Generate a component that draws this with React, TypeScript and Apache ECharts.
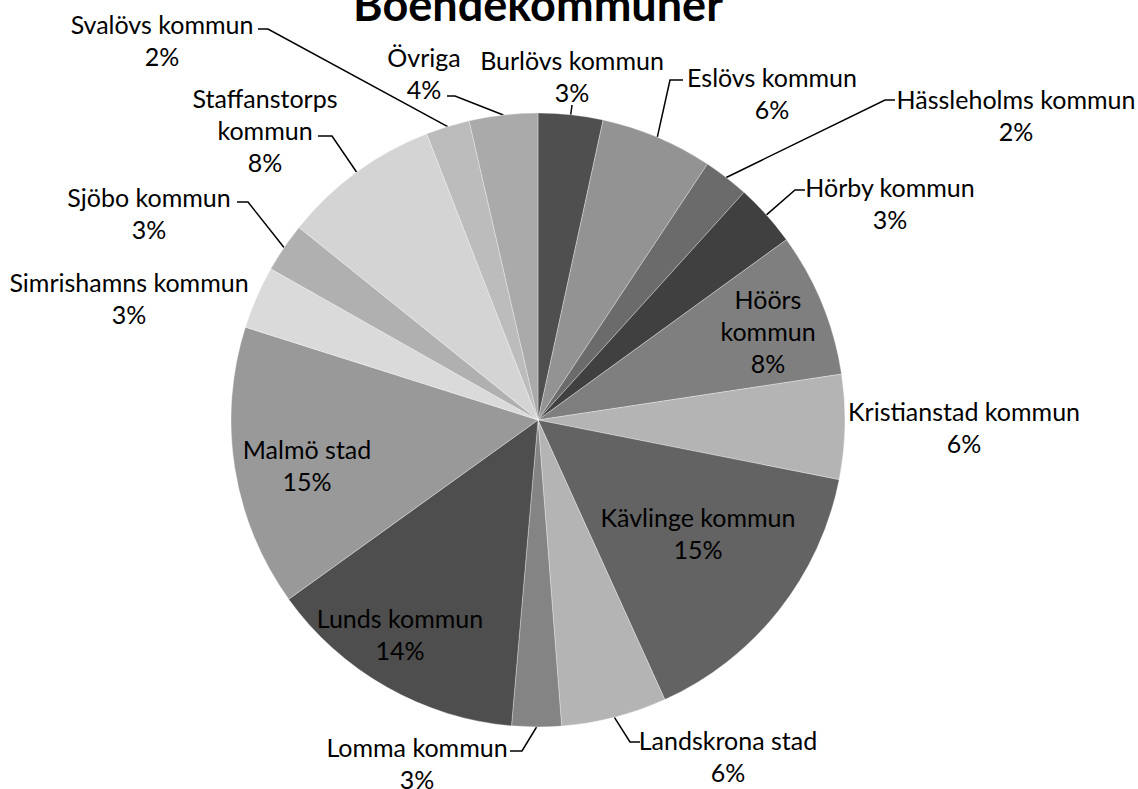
import React, { useEffect, useRef } from "react";
import * as echarts from "echarts";

const TITLE = "Boendekommuner";

const categories = [
  "Burlövs kommun",
  "Eslövs kommun",
  "Hässleholms kommun",
  "Hörby kommun",
  "Höörs kommun",
  "Kristianstad kommun",
  "Kävlinge kommun",
  "Landskrona stad",
  "Lomma kommun",
  "Lunds kommun",
  "Malmö stad",
  "Simrishamns kommun",
  "Sjöbo kommun",
  "Staffanstorps kommun",
  "Svalövs kommun",
  "Övriga",
];

const values = [3.4, 5.9, 2.4, 3.3, 7.6, 5.5, 15.1, 5.55, 2.6, 13.7, 14.8, 3.3, 2.6, 8.3, 2.3, 3.6];

const colors = [
  "#4f4f4f", "#939393", "#6b6b6b", "#404040", "#7f7f7f", "#b4b4b4",
  "#636363", "#b4b4b4", "#848484", "#4e4e4e", "#999999", "#dadada",
  "#b0b0b0", "#d4d4d4", "#bcbcbc", "#aaaaaa",
];

const wrapped = ["Höörs kommun", "Staffanstorps kommun"];

// label placement (text block centre) and leader-line label-side point + bend x
const labelLayoutCfg: { x: number; y: number; line?: number[] }[] = [
  { x: 572, y: 76, line: [572, 105, 572] },
  { x: 772, y: 93, line: [683, 80, 670] },
  { x: 1016, y: 115, line: [895, 100, 885] },
  { x: 890, y: 203, line: [805, 190, 795] },
  { x: 768, y: 331 },
  { x: 964, y: 427 },
  { x: 698, y: 533 },
  { x: 728, y: 756, line: [640, 742, 630] },
  { x: 417, y: 763, line: [510, 751, 522] },
  { x: 400, y: 634 },
  { x: 307, y: 465 },
  { x: 129, y: 298 },
  { x: 149, y: 213, line: [237, 202, 248] },
  { x: 265, y: 130, line: [318, 136, 332] },
  { x: 162, y: 40, line: [258, 29, 268] },
  { x: 424, y: 73, line: [447, 96, 455] },
];

const FONT = "Lato";

export default function App() {
  const ref = useRef<HTMLDivElement>(null);
  useEffect(() => {
    if (!ref.current) return;
    const chart = echarts.init(ref.current, null, { renderer: "svg" });
    const data = categories.map((name, i) => ({
      name,
      value: values[i],
      itemStyle: { color: colors[i] },
      labelLine: { show: !!labelLayoutCfg[i].line },
    }));
    chart.setOption({
      animation: false,
      backgroundColor: "#ffffff",
      graphic: [
        {
          type: "text",
          x: 538,
          y: 4,
          style: {
            text: TITLE,
            fontFamily: FONT,
            fontSize: 45,
            fontWeight: "bold",
            fill: "#000000",
            align: "center",
            verticalAlign: "middle",
          },
        },
      ],
      series: [
        {
          type: "pie",
          center: [538, 420],
          radius: 307,
          startAngle: 90,
          clockwise: true,
          avoidLabelOverlap: false,
          data,
          itemStyle: { borderColor: "rgba(255,255,255,0.45)", borderWidth: 0.7 },
          label: {
            show: true,
            position: "outside",
            fontFamily: FONT,
            fontSize: 25,
            lineHeight: 32,
            color: "#000000",
            align: "center",
            formatter: (p: any) => {
              const nm = wrapped.includes(p.name) ? p.name.replace(" ", "\n") : p.name;
              return `${nm}\n${Math.round(p.percent)}%`;
            },
          },
          labelLine: {
            show: true,
            lineStyle: { color: "#000000", width: 1.5 },
          },
          labelLayout: (params: any) => {
            const cfg = labelLayoutCfg[params.dataIndex];
            const out: any = {
              x: cfg.x,
              y: cfg.y,
              align: "center",
              verticalAlign: "middle",
            };
            if (cfg.line && params.labelLinePoints && params.labelLinePoints[0]) {
              const edge = params.labelLinePoints[0];
              out.labelLinePoints = [
                [edge[0], edge[1]],
                [cfg.line[2], cfg.line[1]],
                [cfg.line[0], cfg.line[1]],
              ];
            }
            return out;
          },
        },
      ],
    });
    return () => chart.dispose();
  }, []);
  return (
    <div
      ref={ref}
      style={{ position: "absolute", left: 0, top: 0, width: 1138, height: 789 }}
    />
  );
}
